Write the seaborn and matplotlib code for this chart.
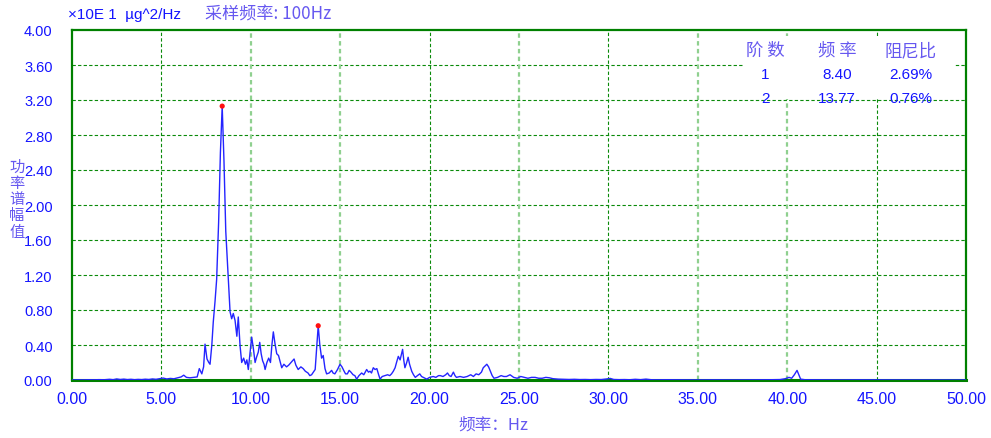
import numpy as np
import pandas as pd
import matplotlib
matplotlib.use("Agg")
import matplotlib.pyplot as plt
from matplotlib.patches import Rectangle
import seaborn as sns

# Power spectral density (x10 ug^2/Hz) versus frequency (Hz)
freq = [
    0.0, 0.3, 0.6, 0.9, 1.2, 1.5, 1.8, 2.1, 2.3, 2.5, 2.7, 2.9, 3.1, 3.3, 3.5, 3.7, 3.9,
    4.1, 4.3, 4.5, 4.7, 4.9, 5.1, 5.3, 5.5, 5.7, 5.9, 6.1, 6.25, 6.4, 6.6, 6.8, 7.0,
    7.12, 7.26, 7.36, 7.44, 7.55, 7.65, 7.72, 7.82, 7.90, 8.00, 8.09, 8.20, 8.30, 8.40,
    8.50, 8.60, 8.74, 8.84, 8.93, 9.02, 9.12, 9.22, 9.30, 9.40, 9.49, 9.60, 9.70, 9.78,
    9.86, 9.95, 10.05, 10.15, 10.24, 10.32, 10.42, 10.50, 10.58, 10.66, 10.74, 10.80,
    10.90, 11.00, 11.10, 11.18, 11.26, 11.35, 11.45, 11.55, 11.65, 11.73, 11.85, 12.00,
    12.12, 12.25, 12.42, 12.52, 12.65, 12.80, 12.93, 13.05, 13.20, 13.30, 13.40, 13.50,
    13.60, 13.68, 13.77, 13.86, 13.96, 14.05, 14.15, 14.24, 14.38, 14.52, 14.60, 14.70,
    14.85, 14.99, 15.10, 15.22, 15.30, 15.40, 15.50, 15.60, 15.72, 15.82, 15.92, 16.05,
    16.20, 16.32, 16.48, 16.58, 16.67, 16.75, 16.85, 16.95, 17.05, 17.15, 17.23, 17.35,
    17.50, 17.65, 17.77, 17.87, 17.97, 18.07, 18.15, 18.25, 18.35, 18.49, 18.56, 18.62,
    18.72, 18.80, 18.88, 19.00, 19.10, 19.20, 19.32, 19.45, 19.55, 19.65, 19.75, 19.84,
    20.0, 20.2, 20.35, 20.5, 20.6, 20.75, 20.9, 21.0, 21.1, 21.2, 21.33, 21.42, 21.5,
    21.7, 21.9, 22.1, 22.3, 22.45, 22.6, 22.75, 22.9, 23.0, 23.1, 23.2, 23.3, 23.4,
    23.5, 23.6, 23.8, 24.0, 24.15, 24.3, 24.5, 24.7, 24.9, 25.1, 25.3, 25.5, 25.7,
    25.9, 26.1, 26.3, 26.5, 26.7, 26.9, 27.2, 27.5, 27.8, 28.1, 28.4, 28.7, 29.0,
    29.3, 29.6, 29.9, 30.1, 30.3, 30.6, 30.9, 31.2, 31.5, 31.8, 32.1, 32.4, 32.8,
    33.2, 33.6, 34.0, 35.0, 36.0, 37.0, 38.0, 39.0, 39.6, 39.9, 40.1, 40.25, 40.4,
    40.55, 40.65, 40.75, 41.0, 42.0, 43.0, 44.0, 45.0, 46.0, 47.0, 48.0, 49.0, 50.0,
]
amp = [
    0.000, 0.002, 0.001, 0.003, 0.002, 0.004, 0.003, 0.008, 0.004, 0.012, 0.006, 0.010,
    0.005, 0.008, 0.004, 0.007, 0.005, 0.009, 0.006, 0.012, 0.008, 0.015, 0.022, 0.012,
    0.018, 0.014, 0.025, 0.035, 0.055, 0.030, 0.025, 0.030, 0.035, 0.130, 0.070, 0.150,
    0.410, 0.240, 0.200, 0.180, 0.400, 0.660, 0.900, 1.150, 1.800, 2.600, 3.130, 2.500,
    1.700, 1.150, 0.780, 0.700, 0.760, 0.680, 0.500, 0.720, 0.390, 0.200, 0.250, 0.180,
    0.230, 0.120, 0.300, 0.490, 0.350, 0.200, 0.260, 0.320, 0.430, 0.300, 0.220, 0.180,
    0.120, 0.200, 0.250, 0.200, 0.400, 0.550, 0.420, 0.300, 0.280, 0.200, 0.140, 0.180,
    0.150, 0.170, 0.200, 0.240, 0.170, 0.120, 0.150, 0.130, 0.100, 0.080, 0.050, 0.060,
    0.090, 0.120, 0.350, 0.620, 0.400, 0.250, 0.280, 0.130, 0.070, 0.080, 0.110, 0.080,
    0.070, 0.120, 0.180, 0.150, 0.100, 0.070, 0.070, 0.110, 0.090, 0.060, 0.050, 0.010,
    0.050, 0.080, 0.060, 0.120, 0.090, 0.100, 0.080, 0.140, 0.120, 0.130, 0.060, 0.010,
    0.040, 0.050, 0.060, 0.050, 0.070, 0.100, 0.140, 0.200, 0.270, 0.230, 0.350, 0.220,
    0.140, 0.200, 0.260, 0.180, 0.100, 0.060, 0.030, 0.050, 0.070, 0.040, 0.030, 0.020,
    0.010, 0.030, 0.040, 0.030, 0.050, 0.050, 0.040, 0.060, 0.080, 0.050, 0.040, 0.090,
    0.050, 0.030, 0.040, 0.030, 0.040, 0.060, 0.040, 0.070, 0.060, 0.090, 0.140, 0.160,
    0.180, 0.150, 0.100, 0.050, 0.020, 0.030, 0.050, 0.040, 0.040, 0.060, 0.030, 0.020,
    0.040, 0.030, 0.020, 0.030, 0.030, 0.020, 0.020, 0.030, 0.025, 0.015, 0.010, 0.008,
    0.006, 0.008, 0.005, 0.006, 0.004, 0.006, 0.005, 0.012, 0.018, 0.006, 0.004, 0.005,
    0.003, 0.008, 0.004, 0.010, 0.003, 0.002, 0.003, 0.002, 0.002, 0.001, 0.002, 0.001,
    0.002, 0.003, 0.005, 0.015, 0.030, 0.020, 0.060, 0.110, 0.060, 0.010, 0.003, 0.002,
    0.001, 0.002, 0.001, 0.001, 0.001, 0.001, 0.001, 0.000,
]

# Identified modes
mode_order = ["1", "2"]
mode_freq = [8.40, 13.77]
mode_damping = ["2.69%", "0.76%"]

x_ticks = [0, 5, 10, 15, 20, 25, 30, 35, 40, 45, 50]
y_ticks = [0.0, 0.4, 0.8, 1.2, 1.6, 2.0, 2.4, 2.8, 3.2, 3.6, 4.0]

spectrum = pd.DataFrame({"freq": freq, "amp": amp})
peaks = pd.DataFrame({
    "freq": mode_freq,
    "amp": np.interp(mode_freq, freq, amp),
})

sns.set_theme(style="white")
plt.rcParams["font.family"] = ["Liberation Sans", "Noto Sans CJK SC"]

BLUE = "#1414ff"
LAVENDER = "#6658f0"
GREEN = "#0a8a0a"
CJK = ["Noto Sans CJK SC", "Liberation Sans"]
LAT = ["Liberation Sans", "Noto Sans CJK SC"]

W, H = 991, 439
fig = plt.figure(figsize=(W / 100, H / 100), dpi=100)
L, R, T, B = 72, 966, 31, 381
ax = fig.add_axes([L / W, 1 - B / H, (R - L) / W, (B - T) / H])

sns.lineplot(data=spectrum, x="freq", y="amp", ax=ax, color="#2424ff",
             linewidth=1.0, estimator=None, sort=False, zorder=4)
sns.scatterplot(data=peaks, x="freq", y="amp", ax=ax, color="#ff1010",
                s=14, marker="o", edgecolor="none", zorder=5)

ax.set_xlim(0, 50)
ax.set_ylim(0, 4.0)
ax.set_xticks(x_ticks)
ax.set_yticks(y_ticks)
ax.set_xticklabels([f"{v:.2f}" for v in x_ticks], color=BLUE, fontsize=11.5)
ax.set_yticklabels([f"{v:.2f}" for v in y_ticks], color=BLUE, fontsize=10.5)
ax.tick_params(axis="both", length=0)
ax.tick_params(axis="x", pad=8)
ax.tick_params(axis="y", pad=14)
ax.set_xlabel("")
ax.set_ylabel("")

# Grid
for yv in y_ticks[1:-1]:
    ax.axhline(yv, color=GREEN, lw=0.8, ls=(0, (3, 2)), zorder=1)
light_x = {10, 15, 25, 35, 40}
for xv in x_ticks[1:-1]:
    if xv in light_x:
        ax.axvline(xv, color="#8fd08f", lw=1.6, ls=(0, (2, 1.5)), zorder=1)
    else:
        ax.axvline(xv, color=GREEN, lw=0.8, ls=(0, (3, 2)), zorder=1)

for side, sp in ax.spines.items():
    sp.set_visible(True)
    sp.set_color("#008000")
    sp.set_linewidth(1.6)
ax.spines["bottom"].set_linewidth(2.2)

# Modal table
def ax_x(px):
    return (px - L) / (R - L)

def ax_y(py):
    return (B - py) / (B - T)

ax.add_patch(Rectangle((ax_x(743), ax_y(100)), ax_x(955) - ax_x(743),
                       ax_y(37) - ax_y(100), transform=ax.transAxes,
                       facecolor="white", edgecolor="none", zorder=2))
col_x = [765, 837, 911]
headers = ["阶 数", "频 率", "阻尼比"]
for cx, h in zip(col_x, headers):
    ax.text(ax_x(cx), ax_y(51), h, transform=ax.transAxes, ha="center",
            va="center", fontsize=12.5, color=LAVENDER, family=CJK, zorder=6)
for i, (o, f, d) in enumerate(zip(mode_order, mode_freq, mode_damping)):
    yy = ax_y(75 + 24 * i)
    for cx, s in zip(col_x, [o, f"{f:.2f}", d]):
        ax.text(ax_x(cx), yy, s, transform=ax.transAxes, ha="center",
                va="center", fontsize=11, color=BLUE, family=LAT, zorder=6)

# Header line above the plot
fig.text(68 / W, 1 - 15 / H, "×10E 1  µg^2/Hz", ha="left", va="center",
         fontsize=11, color=BLUE, family=LAT)
fig.text(205 / W, 1 - 15 / H, "采样频率: 100Hz", ha="left", va="center",
         fontsize=12.3, color=LAVENDER, family=CJK)

# Vertical y-axis label, one character per line
for i, ch in enumerate("功率谱幅值"):
    fig.text(17 / W, 1 - (167 + 16.3 * i) / H, ch, ha="center", va="center",
             fontsize=11, color=LAVENDER, family=CJK)

fig.text(493 / W, 1 - 425 / H, "频率：Hz", ha="center", va="center",
         fontsize=12, color=LAVENDER, family=CJK)

fig.savefig("out.png", dpi=100, facecolor="white")
